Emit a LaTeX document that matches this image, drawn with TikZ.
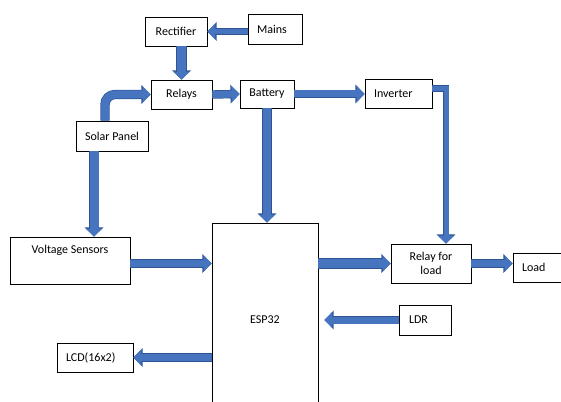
\documentclass[tikz,border=0pt]{standalone}
\usepackage{fontspec}
\setmainfont{Carlito}
\usetikzlibrary{arrows.meta}

\definecolor{flowfill}{RGB}{70,116,190}
\definecolor{flowedge}{RGB}{46,84,150}

\begin{document}
\begin{tikzpicture}[
    x=1pt, y=-1pt,
    block/.style={rectangle, draw, line width=0.8pt, inner sep=0pt, font=\fontsize{12}{14.5}\selectfont},
    flow/.style={flowfill, line width=#1, -{Triangle[length=8pt, width=16pt]},
        preaction={draw=flowedge, line width=#1+1.4pt, -{Triangle[length=9.2pt, width=18.2pt]}}},
    flow/.default=7pt
]
\useasboundingbox (0,0) rectangle (561,401);
\clip (0,0) rectangle (561,401);

% Supply side
\node[block, minimum width=62pt, minimum height=29pt] (rect) at (176,31.5) {Rectifier};
\node[block, minimum width=54pt, minimum height=30pt, text width=36pt, align=left] (mains) at (275,29.5) {Mains};
\node[block, minimum width=61pt, minimum height=29pt] (relays) at (181.5,94.5) {Relays};
\node[block, minimum width=54pt, minimum height=28pt] (battery) at (267,94) {Battery};
\node[block, minimum width=72pt, minimum height=30pt] (solar) at (112,136) {Solar Panel};
\node[block, minimum width=67pt, minimum height=29pt, text width=49pt, align=left] (inverter) at (398.5,93.5) {Inverter};

% Controller side
\node[block, minimum width=120pt, minimum height=47pt, text height=9pt, text depth=23pt] (vs) at (70,260.5) {Voltage Sensors};
\node[block, minimum width=106pt, minimum height=194pt] (esp) at (265,320) {ESP32};
\node[block, minimum width=80pt, minimum height=39pt, align=center] (relayload) at (431,263.5) {Relay for\\load};
\node[block, minimum width=52pt, minimum height=29pt, text width=34pt, align=left] (load) at (539,267.5) {Load};
\node[block, minimum width=52pt, minimum height=30pt, text width=32pt, align=left] (ldr) at (425,320) {LDR};
\node[block, minimum width=76pt, minimum height=29pt, text width=58pt, align=left] (lcd) at (95,357.5) {LCD(16x2)};

\coordinate (ldrin) at ([xshift=6pt]esp.east |- ldr.west);

% Arrows
\draw[flow=5pt] (mains.west |- rect.east) -- (rect.east);
\draw[flow=9pt] (rect.south -| relays.north) -- (relays.north);
\draw[flow=8pt, rounded corners=10pt] ([xshift=-7pt]solar.north) |- (relays.west);
\draw[flow] (relays.east) -- (battery.west);
\draw[flow] (battery.east) -- (battery.east -| inverter.west);
\draw[flow=8pt] (battery.south) -- (battery.south |- esp.north);
\draw[flow=9pt] ([xshift=-18pt]solar.south) -- ([xshift=-18pt]solar.south |- vs.north);
\draw[flow] ([yshift=-3pt]vs.east) -- ([yshift=-3pt]vs.east -| esp.west);
\draw[flow=5pt] ([yshift=5pt]inverter.east) -| ([xshift=15pt]relayload.north);
\draw[flow=9pt] (esp.east |- relayload.west) -- (relayload.west);
\draw[flow] (relayload.east) -- (relayload.east -| load.west);
\draw[flow] (ldr.west) -- (ldrin);
\draw[flow] (esp.west |- lcd.east) -- (lcd.east);

\end{tikzpicture}
\end{document}
